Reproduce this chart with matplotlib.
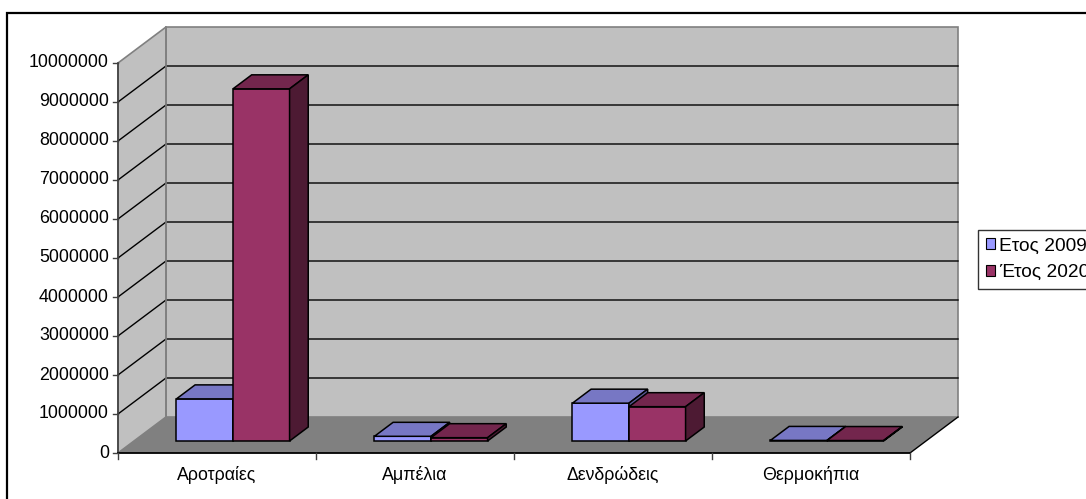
import matplotlib
matplotlib.use("Agg")
import matplotlib.pyplot as plt
from matplotlib.patches import Polygon, Rectangle, Patch
import numpy as np

plt.rcParams['font.family'] = ['Liberation Sans', 'DejaVu Sans']

categories = ["Αροτραίες", "Αμπέλια", "Δενδρώδεις", "Θερμοκήπια"]
series_names = ["Ετος 2009", "Έτος 2020"]
values_2009 = [1080000, 120000, 970000, 15000]
values_2020 = [9030000, 85000, 880000, 12000]
y_ticks = list(range(0, 10000001, 1000000))

# face colours per series: front, top, side
colors = [("#9999FF", "#7777C4", "#5C5C99"),
          ("#993366", "#73264D", "#4D1A33")]

FS = 12.8
W, H = 1086, 499
fig = plt.figure(figsize=(W / 100, H / 100), dpi=100)
ax = fig.add_axes([0, 0, 1, 1])
ax.set_axis_off()

# pixel layout of the front plane
x0_px, cat_px = 118, 198
y0_px, px_per_m = 453, 39.0
ax.set_xlim(-x0_px / cat_px, (W - x0_px) / cat_px)
ax.set_ylim(-(H - y0_px) / px_per_m * 1e6, y0_px / px_per_m * 1e6)

# oblique depth offset (in data units)
DX = 48 / cat_px
DY = 36 / px_per_m * 1e6
n = len(categories)
ymax = y_ticks[-1]

def off(x, y, t):
    return (x + t * DX, y + t * DY)

# outer frame
def px2data(px, py):
    return ((px - x0_px) / cat_px, (y0_px - py) / px_per_m * 1e6)

fx0, fy0 = px2data(7, 13)
fx1, fy1 = px2data(1095, 510)
ax.add_patch(Rectangle((fx0, fy1), fx1 - fx0, fy0 - fy1, fill=False,
                       edgecolor="black", lw=1.6, zorder=1))

# back wall
ax.add_patch(Polygon([off(0, 0, 1), off(n, 0, 1), off(n, ymax, 1), off(0, ymax, 1)],
                     facecolor="#C0C0C0", edgecolor="#808080", lw=1.2, zorder=2))
# side wall
ax.add_patch(Polygon([(0, 0), off(0, 0, 1), off(0, ymax, 1), (0, ymax)],
                     facecolor="#C0C0C0", edgecolor="#808080", lw=1.2, zorder=2))
# floor
ax.add_patch(Polygon([(0, 0), (n, 0), off(n, 0, 1), off(0, 0, 1)],
                     facecolor="#808080", edgecolor="none", zorder=2))
ax.plot([n, n + DX], [0, DY], color="black", lw=1, zorder=3)

# gridlines on walls
for v in y_ticks[1:-1]:
    ax.plot([0, DX, n + DX], [v, v + DY, v + DY], color="black", lw=1, zorder=3)
ax.plot([DX, DX], [DY, ymax + DY], color="#808080", lw=1.2, zorder=3)

# axes lines and ticks
tick_x = 5 / cat_px
tick_y = 6 / px_per_m * 1e6
ax.plot([0, 0], [0, ymax], color="#404040", lw=1.2, zorder=4)
ax.plot([0, n], [0, 0], color="black", lw=1.3, zorder=4)
for v in y_ticks:
    ax.plot([-tick_x, 0], [v, v], color="#404040", lw=1, zorder=4)
    ax.text(-9 / cat_px, v, f"{v}", ha="right", va="center", fontsize=FS, zorder=4)
for i in range(n + 1):
    ax.plot([i, i], [0, -tick_y], color="#404040", lw=1, zorder=4)
for i, c in enumerate(categories):
    ax.text(i + 0.5, -22 / px_per_m * 1e6, c, ha="center", va="center", fontsize=FS, zorder=4)

# bars
gap = 0.75 / 3.5
bw = 1 / 3.5
t0, t1 = 12 / 36, 26 / 36
for i in range(n):
    for s, vals in enumerate([values_2009, values_2020]):
        v = vals[i]
        xl = i + gap + s * bw
        xr = xl + bw
        front, top, side = colors[s]
        z = 5 + i * 2 + s
        fl, fr = off(xl, 0, t0), off(xr, 0, t0)
        tl, tr = off(xl, v, t0), off(xr, v, t0)
        bl, br = off(xl, v, t1), off(xr, v, t1)
        brb = off(xr, 0, t1)
        ax.add_patch(Polygon([fl, fr, tr, tl], facecolor=front, edgecolor="black", lw=1.1, zorder=z))
        ax.add_patch(Polygon([tl, tr, br, bl], facecolor=top, edgecolor="black", lw=1.1, zorder=z))
        ax.add_patch(Polygon([fr, brb, br, tr], facecolor=side, edgecolor="black", lw=1.1, zorder=z))

# legend
handles = [Patch(facecolor=colors[k][0], edgecolor="black", lw=0.8) for k in range(2)]
leg = ax.legend(handles, series_names, loc="upper left",
                bbox_to_anchor=(978 / W, 1 - 230 / H), bbox_transform=fig.transFigure,
                fontsize=13.8, frameon=True, fancybox=False, borderpad=0.4,
                borderaxespad=0, handlelength=0.5, handleheight=0.5,
                handletextpad=0.2, labelspacing=0.5)
leg.get_frame().set_edgecolor("black")
leg.get_frame().set_linewidth(1.0)
leg.set_zorder(20)

fig.savefig("out.png", dpi=100)
